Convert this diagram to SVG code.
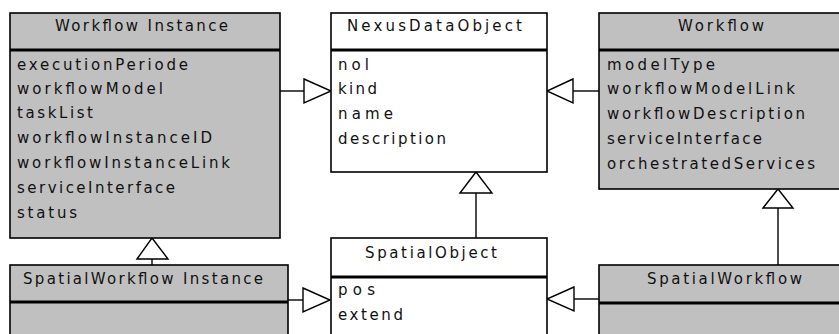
<svg xmlns="http://www.w3.org/2000/svg" width="839" height="334" viewBox="0 0 839 334">
<style>
.box{stroke:#000;stroke-width:1.6}
.g{fill:#c0c0c0}
.w{fill:#fff}
.sep{stroke:#000;stroke-width:3}
text{font-family:"DejaVu Sans","Liberation Sans",sans-serif;font-size:15px;fill:#111}
.line{stroke:#000;stroke-width:1.4;fill:none}
.gen{fill:#fff;stroke:#000;stroke-width:1.4}
</style>
<rect width="839" height="334" fill="#fff"/>
<g id="connectors">
<line class="line" x1="280" y1="91" x2="304" y2="91"/>
<polygon class="gen" points="304,79 331,91 304,103"/>
<line class="line" x1="573" y1="91" x2="599" y2="91"/>
<polygon class="gen" points="573,79 547,91 573,103"/>
<line class="line" x1="476" y1="193" x2="476" y2="238"/>
<polygon class="gen" points="460,193 476,172 492,193"/>
<line class="line" x1="778" y1="208" x2="778" y2="265"/>
<polygon class="gen" points="763,208 778,189 793,208"/>
<line class="line" x1="152" y1="259" x2="152" y2="265"/>
<polygon class="gen" points="137,259 152,238 168,259"/>
<line class="line" x1="288" y1="300" x2="303" y2="300"/>
<polygon class="gen" points="303,288 330,300 303,312"/>
<line class="line" x1="574" y1="299" x2="599" y2="299"/>
<polygon class="gen" points="574,287 547,299 574,311"/>
</g>
<g id="workflow-instance">
<rect class="box g" x="10" y="13" width="270" height="225"/>
<line class="sep" x1="10" y1="50" x2="280" y2="50"/>
<text x="55" y="31" textLength="173" lengthAdjust="spacing">Workflow Instance</text>
<text x="17" y="70" textLength="171" lengthAdjust="spacing">executionPeriode</text>
<text x="17" y="94" textLength="146" lengthAdjust="spacing">workflowModel</text>
<text x="17" y="118" textLength="76" lengthAdjust="spacing">taskList</text>
<text x="17" y="143" textLength="195" lengthAdjust="spacing">workflowInstanceID</text>
<text x="17" y="168" textLength="213" lengthAdjust="spacing">workflowInstanceLink</text>
<text x="17" y="193" textLength="158" lengthAdjust="spacing">serviceInterface</text>
<text x="17" y="218" textLength="60" lengthAdjust="spacing">status</text>
</g>
<g id="nexus-data-object">
<rect class="box w" x="331" y="13" width="216" height="159"/>
<line class="sep" x1="331" y1="50" x2="547" y2="50"/>
<text x="347" y="31" textLength="175" lengthAdjust="spacing">NexusDataObject</text>
<text x="338" y="70" textLength="31" lengthAdjust="spacing">nol</text>
<text x="338" y="94" textLength="39" lengthAdjust="spacing">kind</text>
<text x="338" y="119" textLength="55" lengthAdjust="spacing">name</text>
<text x="338" y="144" textLength="108" lengthAdjust="spacing">description</text>
</g>
<g id="workflow">
<rect class="box g" x="599" y="13" width="250" height="176"/>
<line class="sep" x1="599" y1="50" x2="849" y2="50"/>
<text x="678" y="31" textLength="86" lengthAdjust="spacing">Workflow</text>
<text x="607" y="70" textLength="108" lengthAdjust="spacing">modelType</text>
<text x="607" y="94" textLength="188" lengthAdjust="spacing">workflowModelLink</text>
<text x="607" y="119" textLength="198" lengthAdjust="spacing">workflowDescription</text>
<text x="607" y="144" textLength="155" lengthAdjust="spacing">serviceInterface</text>
<text x="607" y="169" textLength="208" lengthAdjust="spacing">orchestratedServices</text>
</g>
<g id="spatial-object">
<rect class="box w" x="331" y="238" width="216" height="110"/>
<line class="sep" x1="331" y1="277" x2="547" y2="277"/>
<text x="365" y="258" textLength="132" lengthAdjust="spacing">SpatialObject</text>
<text x="338" y="295" textLength="37" lengthAdjust="spacing">pos</text>
<text x="338" y="320" textLength="65" lengthAdjust="spacing">extend</text>
</g>
<g id="spatial-workflow-instance">
<rect class="box g" x="10" y="265" width="278" height="90"/>
<line class="sep" x1="10" y1="302" x2="288" y2="302"/>
<text x="23" y="284" textLength="240" lengthAdjust="spacing">SpatialWorkflow Instance</text>
</g>
<g id="spatial-workflow">
<rect class="box g" x="599" y="265" width="250" height="90"/>
<line class="sep" x1="599" y1="303" x2="849" y2="303"/>
<text x="647" y="284" textLength="155" lengthAdjust="spacing">SpatialWorkflow</text>
</g>
</svg>
